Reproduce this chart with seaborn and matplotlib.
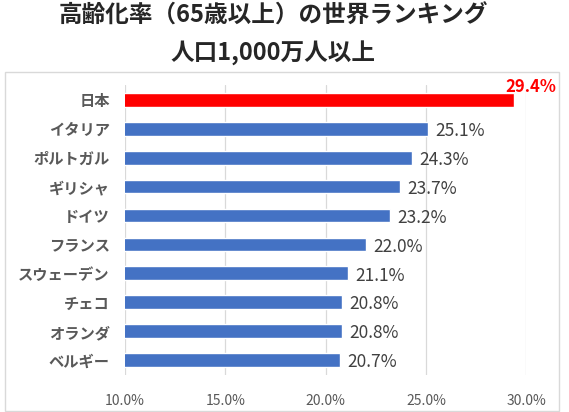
import pandas as pd
import numpy as np
import seaborn as sns
import matplotlib.pyplot as plt
from matplotlib.patches import Rectangle
from matplotlib.ticker import FuncFormatter

countries = ["日本", "イタリア", "ポルトガル", "ギリシャ", "ドイツ",
             "フランス", "スウェーデン", "チェコ", "オランダ", "ベルギー"]
rates = [29.4, 25.1, 24.3, 23.7, 23.2, 22.0, 21.1, 20.8, 20.8, 20.7]
xticks = [10.0, 15.0, 20.0, 25.0, 30.0]
title1 = "高齢化率（65歳以上）の世界ランキング"
title2 = "人口1,000万人以上"

blue = "#4472C4"
red = "#FF0000"
df = pd.DataFrame({"国": countries, "率": rates})
df["色"] = ["日本" if c == "日本" else "他" for c in countries]

sns.set_theme(style="white")
plt.rcParams['font.family'] = ['Noto Sans CJK JP', 'DejaVu Sans']

fig = plt.figure(figsize=(5.69, 4.12), dpi=100)
ax = fig.add_axes([0.2197, 0.0903, 0.7056, 0.703])

sns.barplot(data=df, x="率", y="国", hue="色", palette={"日本": red, "他": blue},
            order=countries, width=0.48, legend=False, ax=ax, saturation=1)

ax.set_xlim(10, 30)
ax.set_ylim(len(countries) - 0.5, -0.5)
ax.set_xticks(xticks)
ax.xaxis.set_major_formatter(FuncFormatter(lambda v, p: f"{v:.1f}%"))
ax.grid(axis="x", color="#D9D9D9", linewidth=0.9)
ax.set_axisbelow(True)
for s in ax.spines.values():
    s.set_visible(False)
ax.set_xlabel("")
ax.set_ylabel("")
ax.tick_params(axis="x", length=0, labelsize=10, labelcolor="#595959", pad=13.5)
ax.tick_params(axis="y", length=0, labelsize=11, labelcolor="#595959", pad=11)
for lab in ax.get_yticklabels():
    lab.set_fontweight("bold")

# ラベル
for i, (c, v) in enumerate(zip(countries, rates)):
    if c == "日本":
        ax.annotate(f"{v:.1f}%", (v, i), xytext=(12, 9.4), textcoords="offset points",
                    ha="center", va="center", color=red, fontsize=12,
                    fontweight="bold", annotation_clip=False)
    else:
        ax.annotate(f"{v:.1f}%", (v, i), xytext=(5.5, -1.5), textcoords="offset points",
                    ha="left", va="center", color="#404040", fontsize=12.5)

fig.text(0.48, 0.9617, title1, ha="center", va="center",
         fontsize=17, fontweight="bold")
fig.text(0.48, 0.869, title2, ha="center", va="center",
         fontsize=17, fontweight="bold")

fig.patches.append(Rectangle((5 / 569, 1 / 412), 554 / 569, 339 / 412,
                             transform=fig.transFigure, fill=False,
                             edgecolor="#D9D9D9", linewidth=1))

fig.savefig("out.png", dpi=100)
